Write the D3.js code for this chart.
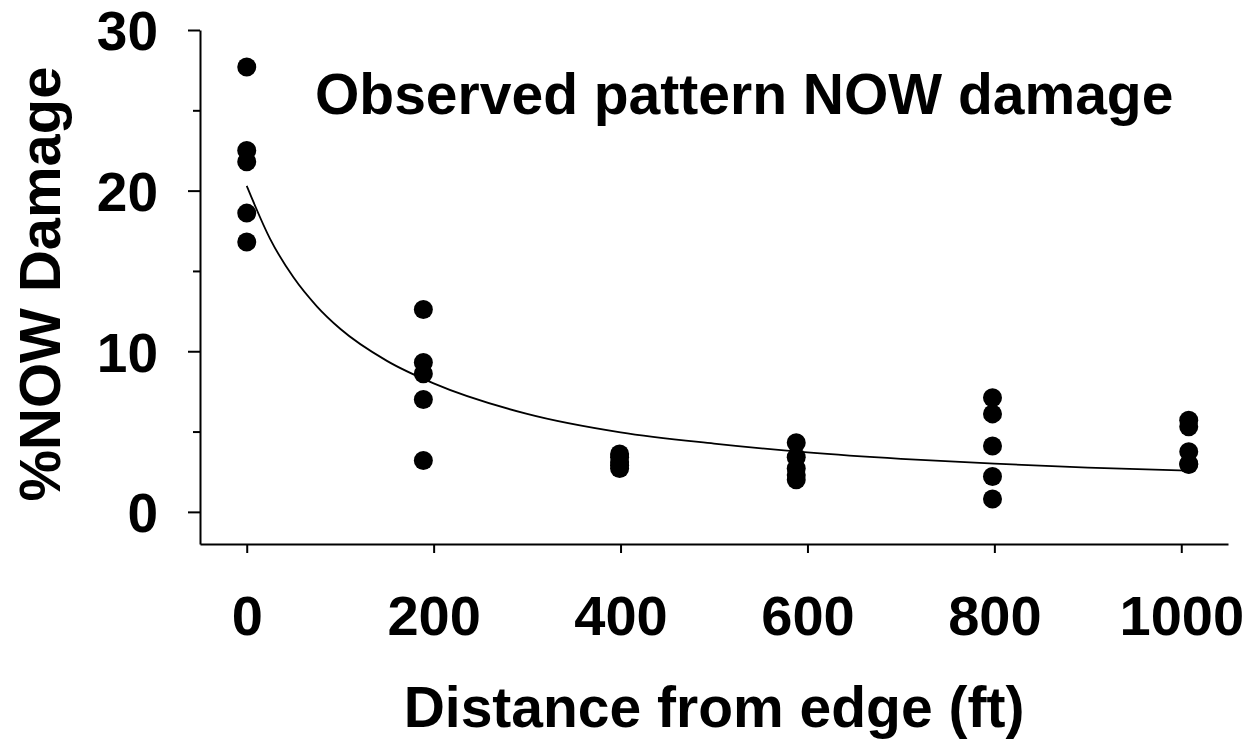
<!DOCTYPE html>
<html>
<head>
<meta charset="utf-8">
<script src="https://cdn.jsdelivr.net/npm/d3@7"></script>
<style>
  html, body { margin: 0; padding: 0; background: #fff; }
  svg { display: block; }
  text { font-family: "Liberation Sans", Arial, sans-serif; font-weight: bold; fill: #000; }
</style>
</head>
<body>
<svg id="chart" width="1251" height="743"></svg>
<script>
// Observed damage per sampling distance (ft from orchard edge)
const obsDistance = [0, 0, 0, 0, 0,
  189, 189, 189, 189, 189,
  399, 399, 399, 399, 399,
  588, 588, 588, 588, 588,
  798, 798, 798, 798, 798,
  1008, 1008, 1008, 1008, 1008];
const obsDamage = [27.7, 22.5, 21.8, 18.6, 16.8,
  12.6, 9.3, 8.6, 7.0, 3.2,
  3.6, 3.4, 3.1, 2.9, 2.7,
  4.3, 3.4, 2.7, 2.3, 2.0,
  7.1, 6.1, 4.1, 2.2, 0.8,
  5.7, 5.3, 3.75, 3.0, 2.95];

// Fitted decay curve, sampled along distance
const fitDistance = [0, 25, 50, 75, 100, 150, 200, 300, 400, 500, 600, 700, 800, 900, 1008];
const fitDamage = [20.3, 17.0, 14.6, 12.8, 11.4, 9.4, 8.0, 6.1, 4.95, 4.25, 3.7, 3.3, 3.0, 2.75, 2.57];

// Axis ticks
const xTicks = [0, 200, 400, 600, 800, 1000];
const yMajorTicks = [0, 10, 20, 30];
const yMinorTicks = [5, 15, 25];

const titleText = "Observed pattern NOW damage";
const xTitle = "Distance from edge (ft)";
const yTitle = "%NOW Damage";

const svg = d3.select("#chart");

const x = d3.scaleLinear().domain([-50, 1050]).range([200, 1228]);
const y = d3.scaleLinear().domain([-2, 30]).range([544, 30]);

// Y axis: major ticks with labels, minor ticks without
const yAxisG = svg.append("g").attr("transform", `translate(${x.range()[0]},0)`);
yAxisG.call(d3.axisLeft(y).tickValues(yMajorTicks).tickSize(12).tickSizeOuter(0)
  .tickPadding(30).tickFormat(d3.format("d")));
yAxisG.select(".domain").attr("stroke-width", 2);
yAxisG.selectAll(".tick line").attr("stroke-width", 2);
yAxisG.selectAll(".tick text")
  .style("font-size", "55px")
  .attr("dy", "0.36em");

const yMinorG = svg.append("g").attr("transform", `translate(${x.range()[0]},0)`);
yMinorG.call(d3.axisLeft(y).tickValues(yMinorTicks).tickSize(7).tickSizeOuter(0).tickFormat(""));
yMinorG.select(".domain").remove();
yMinorG.selectAll(".tick line").attr("stroke-width", 2);

// X axis
const xAxisG = svg.append("g").attr("transform", `translate(0,${y.range()[0]})`);
xAxisG.call(d3.axisBottom(x).tickValues(xTicks).tickSize(9).tickSizeOuter(0)
  .tickPadding(62).tickFormat(d3.format("d")));
xAxisG.select(".domain").attr("stroke-width", 2);
xAxisG.selectAll(".tick line").attr("stroke-width", 2);
xAxisG.selectAll(".tick text")
  .style("font-size", "56px")
  .attr("dy", "0.36em");

// Fitted curve
const line = d3.line()
  .x((d, i) => x(fitDistance[i]))
  .y((d, i) => y(fitDamage[i]))
  .curve(d3.curveMonotoneX);
svg.append("path")
  .datum(fitDamage)
  .attr("d", line)
  .attr("fill", "none")
  .attr("stroke", "#000")
  .attr("stroke-width", 1.8);

// Observations
svg.append("g")
  .selectAll("circle")
  .data(obsDamage)
  .join("circle")
  .attr("cx", (d, i) => x(obsDistance[i]))
  .attr("cy", d => y(d))
  .attr("r", 9.5)
  .attr("fill", "#000");

// Titles
svg.append("text")
  .attr("x", 315)
  .attr("y", 114)
  .style("font-size", "57px")
  .text(titleText);

svg.append("text")
  .attr("x", 714)
  .attr("y", 727)
  .attr("text-anchor", "middle")
  .style("font-size", "57px")
  .text(xTitle);

svg.append("text")
  .attr("transform", "translate(60,284) rotate(-90)")
  .attr("text-anchor", "middle")
  .style("font-size", "58px")
  .text(yTitle);
</script>
</body>
</html>
